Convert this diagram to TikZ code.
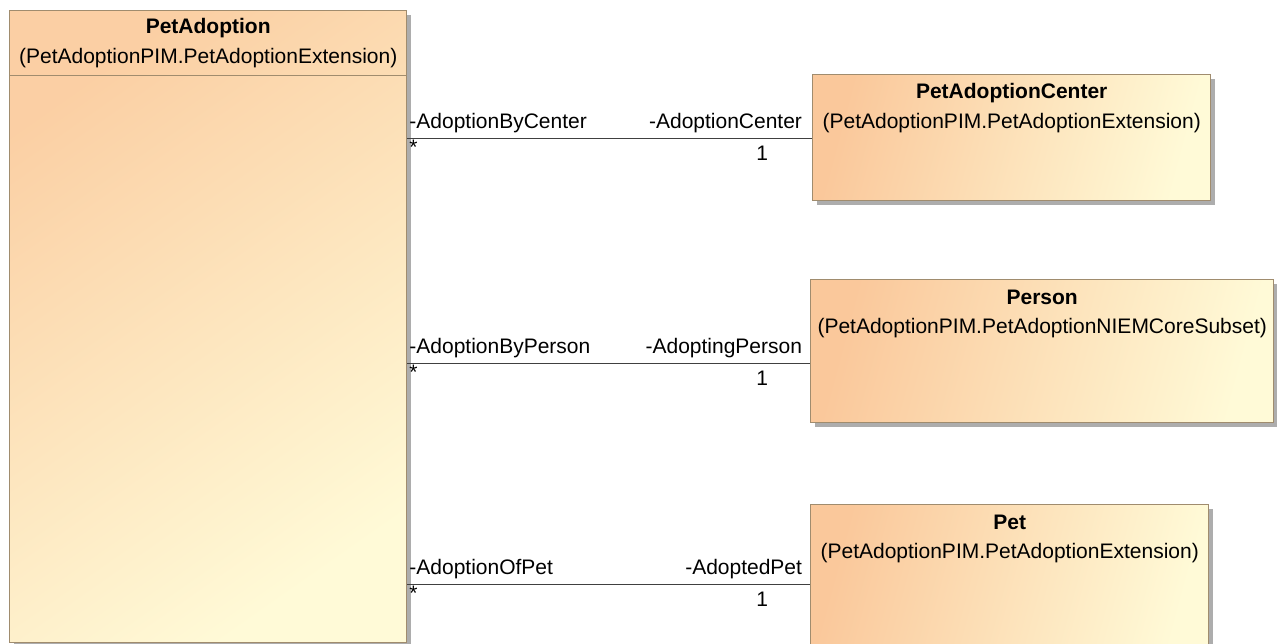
\documentclass[tikz,border=0pt]{standalone}
\usepackage{fontspec}
\setmainfont{Liberation Sans}
\usetikzlibrary{calc,shadows}
\definecolor{peach}{HTML}{FAC89B}
\definecolor{cream}{HTML}{FFFAD7}
\definecolor{boxedge}{HTML}{A08C6E}

\begin{document}
\begin{tikzpicture}[x=1pt, y=-1pt, font=\fontsize{21}{25}\selectfont,
  cls/.style={draw=boxedge, line width=1.4pt, inner sep=0pt, anchor=north west,
    drop shadow={shadow xshift=4pt, shadow yshift=-4pt, fill=black!40, opacity=0.8}},
  clsh/.style={cls, left color=peach, right color=cream, shading angle=75},
  clsv/.style={cls, top color=peach!85!cream, bottom color=cream, shading angle=35},
  title/.style={font=\fontsize{21}{25}\selectfont\bfseries, inner sep=0pt},
  pkg/.style={inner sep=0pt},
  assoc/.style={line width=1pt, draw=black!75},
  role/.style={inner sep=1.5pt, text=black}]

  \useasboundingbox (0,0) rectangle (1277,643);

  % ---- owner class on the left ----
  \node[clsv, minimum width=397pt, minimum height=632pt] (adoption) at (9,10) {};
  \node[title] (adoptiont) at ($(adoption.north)+(0,18)$) {PetAdoption};
  \node[pkg] (adoptionp) at ($(adoption.north)+(0,48)$) {(PetAdoptionPIM.PetAdoptionExtension)};
  \draw[boxedge, line width=1pt] ($(adoption.north west)+(0,65)$) -- ($(adoption.north east)+(0,65)$);

  % ---- associated classes on the right ----
  \node[clsh, minimum width=398pt, minimum height=126pt] (center) at (812,74) {};
  \node[title] (centert) at ($(center.north)+(0,19)$) {PetAdoptionCenter};
  \node[pkg] (centerp) at ($(center.north)+(0,49)$) {(PetAdoptionPIM.PetAdoptionExtension)};

  \node[clsh, minimum width=463pt, minimum height=143pt] (person) at (810,279) {};
  \node[title] (persont) at ($(person.north)+(0,18)$) {Person};
  \node[pkg] (personp) at ($(person.north)+(0,49)$) {(PetAdoptionPIM.PetAdoptionNIEMCoreSubset)};

  \node[clsh, minimum width=398pt, minimum height=150pt] (pet) at (810,504) {};
  \node[title] (pett) at ($(pet.north)+(0,18)$) {Pet};
  \node[pkg] (petp) at ($(pet.north)+(0,49)$) {(PetAdoptionPIM.PetAdoptionExtension)};

  % ---- associations ----
  \draw[assoc] (adoption.east |- 0,138) -- (center.west |- 0,138)
    node[role, pos=0, anchor=south west, yshift=3pt] {-AdoptionByCenter}
    node[role, pos=1, anchor=south east, yshift=3pt, xshift=-8pt] {-AdoptionCenter}
    node[role, pos=0, anchor=north west] {*}
    node[role, pos=1, anchor=north east, xshift=-42pt, yshift=-6pt] {1};
  \draw[assoc] (adoption.east |- 0,363) -- (person.west |- 0,363)
    node[role, pos=0, anchor=south west, yshift=3pt] {-AdoptionByPerson}
    node[role, pos=1, anchor=south east, yshift=3pt, xshift=-6pt] {-AdoptingPerson}
    node[role, pos=0, anchor=north west] {*}
    node[role, pos=1, anchor=north east, xshift=-40pt, yshift=-6pt] {1};
  \draw[assoc] (adoption.east |- 0,584) -- (pet.west |- 0,584)
    node[role, pos=0, anchor=south west, yshift=3pt] {-AdoptionOfPet}
    node[role, pos=1, anchor=south east, yshift=3pt, xshift=-6pt] {-AdoptedPet}
    node[role, pos=0, anchor=north west] {*}
    node[role, pos=1, anchor=north east, xshift=-40pt, yshift=-6pt] {1};

\end{tikzpicture}
\end{document}
